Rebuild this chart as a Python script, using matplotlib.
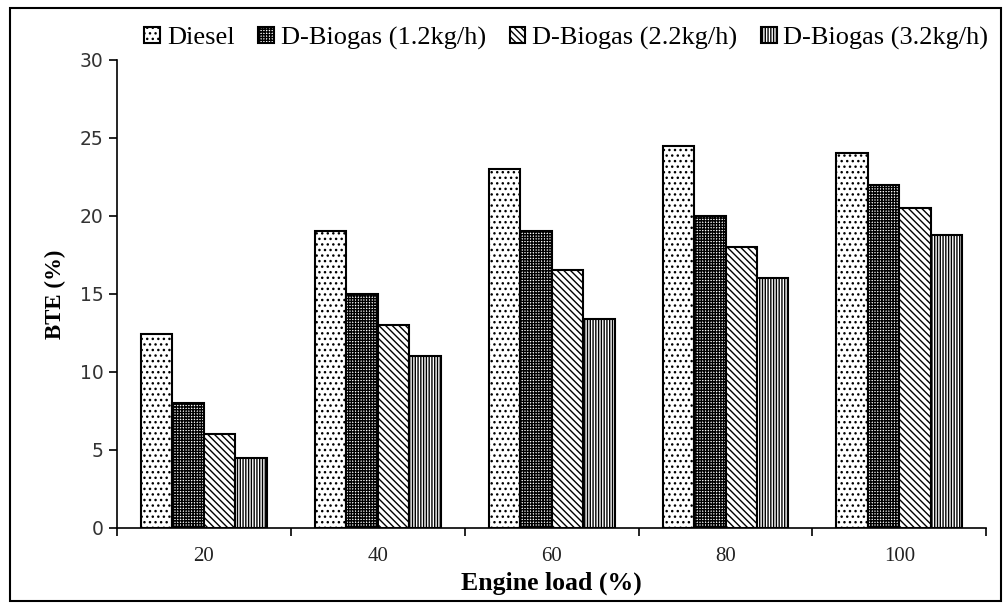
import numpy as np
import matplotlib
matplotlib.use('Agg')
import matplotlib.pyplot as plt
from matplotlib.patches import Rectangle

loads = ['20', '40', '60', '80', '100']
series = ['Diesel', 'D-Biogas (1.2kg/h)', 'D-Biogas (2.2kg/h)', 'D-Biogas (3.2kg/h)']
diesel = [12.4, 19.0, 23.0, 24.5, 24.0]
biogas12 = [8.0, 15.0, 19.0, 20.0, 22.0]
biogas22 = [6.0, 13.0, 16.5, 18.0, 20.5]
biogas32 = [4.5, 11.0, 13.4, 16.0, 18.8]
values = [diesel, biogas12, biogas22, biogas32]
hatches = ['...', '++++++', '\\\\\\\\\\', '||||||']

plt.rcParams['hatch.linewidth'] = 1.0
serif = ['Liberation Serif', 'DejaVu Serif']

fig = plt.figure(figsize=(10.05, 6.04), dpi=100)
ax = fig.add_axes([0.1164, 0.126, 0.865, 0.775])

x = np.arange(len(loads))
w = 0.181
for i, (name, vals) in enumerate(zip(series, values)):
    pos = x - 1.5 * w + i * w
    ax.bar(pos, vals, w, color='white', edgecolor='black', hatch=hatches[i],
           linewidth=1.5, label=name)

ax.set_xlim(-0.5, len(loads) - 0.5)
ax.set_ylim(0, 30)
ax.set_yticks(range(0, 31, 5))
ax.set_xticks(x)
ax.set_xticklabels(loads, fontsize=15, family=serif, color='#222222')
ax.set_xticks(np.arange(-0.5, len(loads)), minor=True)
ax.tick_params(axis='x', which='major', length=0, pad=14)
ax.tick_params(axis='x', which='minor', length=6, direction='out', width=1.2)
ax.tick_params(axis='y', length=6, direction='out', width=1.2, labelsize=13.5,
               labelcolor='#333333')
ax.spines['top'].set_visible(False)
ax.spines['right'].set_visible(False)
ax.spines['left'].set_linewidth(1.2)
ax.spines['bottom'].set_linewidth(1.2)

ax.set_ylabel('BTE (%)', fontsize=16.5, fontweight='bold', family=serif, labelpad=10)
ax.set_xlabel('Engine load (%)', fontsize=18.5, fontweight='bold', family=serif, labelpad=4)

ax.legend(loc='lower center', bbox_to_anchor=(0.517, 0.985), ncol=4, frameon=False,
          prop={'family': serif, 'size': 19}, handlelength=0.6, handleheight=0.6,
          handletextpad=0.25, columnspacing=0.9, borderaxespad=0.25)

fig.patches.append(Rectangle((0.010, 0.005), 0.986, 0.982, transform=fig.transFigure,
                             fill=False, edgecolor='black', linewidth=1.5))

fig.savefig('out.png', dpi=100)
